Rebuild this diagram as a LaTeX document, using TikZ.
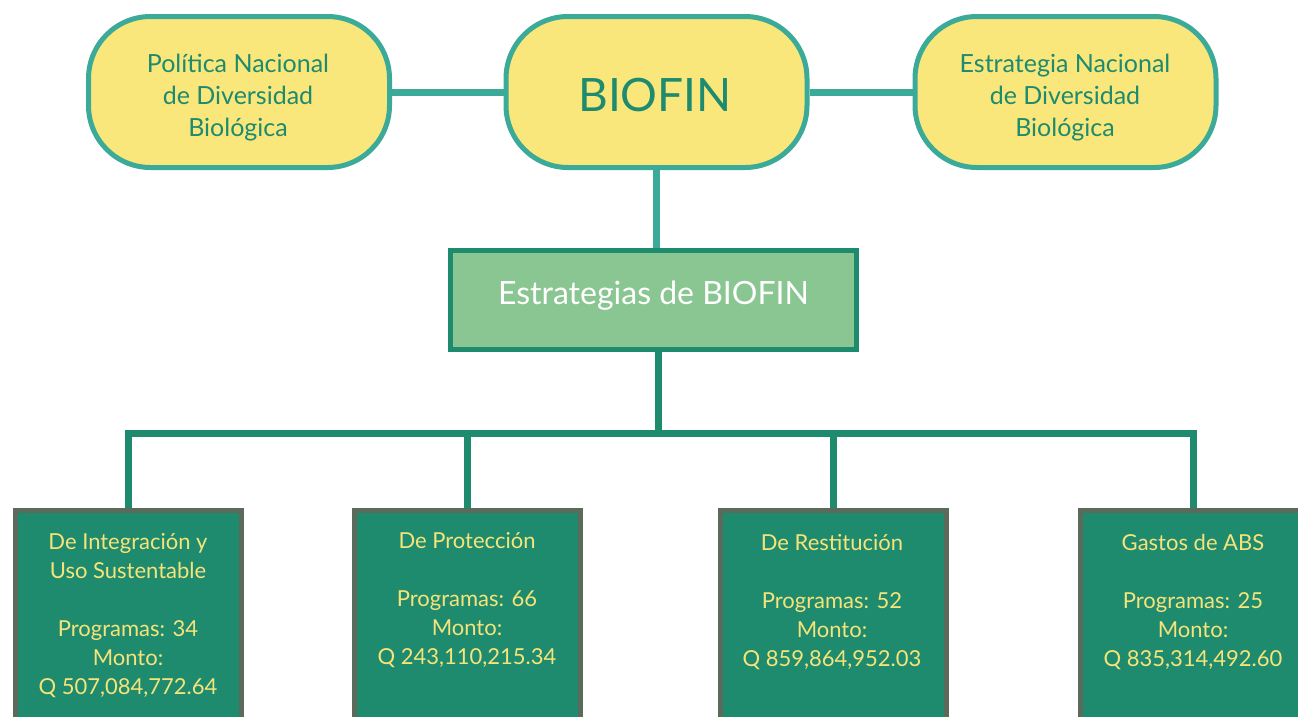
\documentclass[tikz,border=0pt]{standalone}
\usepackage{fontspec}
\setmainfont{Lato}
\definecolor{tealline}{HTML}{3BAA98}
\definecolor{yelfill}{HTML}{F9E77B}
\definecolor{darkteal}{HTML}{1E8A6E}
\definecolor{midgreen}{HTML}{8AC691}
\definecolor{greyedge}{HTML}{5B6A5A}
\definecolor{yeltext}{HTML}{F6E47A}
\tikzset{
  topbox/.style={draw=tealline, line width=5pt, fill=yelfill, rounded corners=62pt,
    minimum width=301pt, minimum height=151pt, inner sep=0pt},
  toptext/.style={text=darkteal, align=center, inner sep=0pt,
    font=\fontsize{25}{32}\selectfont},
  midbox/.style={draw=darkteal, line width=5pt, fill=midgreen, minimum width=406pt,
    minimum height=99pt, inner sep=0pt},
  lowbox/.style={draw=greyedge, line width=5pt, fill=darkteal, minimum width=226pt,
    minimum height=260pt, anchor=north, inner sep=0pt},
  lowtext/.style={text=yeltext, align=center, anchor=north, inner sep=0pt,
    font=\fontsize{22}{29}\selectfont},
  conn/.style={line width=7pt, draw=tealline},
  conn2/.style={line width=7pt, draw=darkteal, line join=miter}
}
\begin{document}
\begin{tikzpicture}[x=1pt,y=-1pt]
\useasboundingbox (0,0) rectangle (1298,716);
\clip (0,0) rectangle (1298,716);
% top row
\node[topbox] (pol) at (239,92) {};
\node[toptext] (polt) at (238,98) {Política Nacional\\de Diversidad\\Biológica};
\node[topbox] (bio) at (656.5,92) {};
\node[text=darkteal, inner sep=0pt, font=\fontsize{46}{50}\selectfont] (biot) at (655,95) {BIOFIN};
\node[topbox] (enb) at (1065.5,92) {};
\node[toptext] (enbt) at (1065,98) {Estrategia Nacional\\de Diversidad\\Biológica};
\draw[conn] (pol.east) -- (bio.west);
\draw[conn] (bio.east) -- (enb.west);
% middle
\node[midbox] (est) at (653.5,300) {};
\node[text=white, inner sep=0pt, font=\fontsize{32}{36}\selectfont] (estt) at (653.5,296) {Estrategias de BIOFIN};
\draw[conn] (bio.south -| 656,0) -- (est.north -| 656,0);
% bottom boxes
\node[lowbox] (b1) at (128.5,507.5) {};
\node[lowbox] (b2) at (467.5,507.5) {};
\node[lowbox] (b3) at (833,507.5) {};
\node[lowbox] (b4) at (1193,507.5) {};
\coordinate (bar) at (658,433);
\draw[conn2] (est.south -| bar) -- (bar);
\draw[conn2] (b1.north) |- (bar) -| (b4.north);
\draw[conn2] (b2.north) -- (b2.north |- bar);
\draw[conn2] (b3.north) -- (b3.north |- bar);
% texts
\node[lowtext] (t1) at (128,533) {De Integración y\\Uso Sustentable\\[29pt]Programas: 34\\Monto:\\Q 507,084,772.64};
\node[lowtext] (t2) at (467,532) {De Protección\\[29pt]Programas: 66\\Monto:\\Q 243,110,215.34};
\node[lowtext] (t3) at (832,534) {De Restitución\\[29pt]Programas: 52\\Monto:\\Q 859,864,952.03};
\node[lowtext] (t4) at (1193,534) {Gastos de ABS\\[29pt]Programas: 25\\Monto:\\Q 835,314,492.60};
\end{tikzpicture}
\end{document}
